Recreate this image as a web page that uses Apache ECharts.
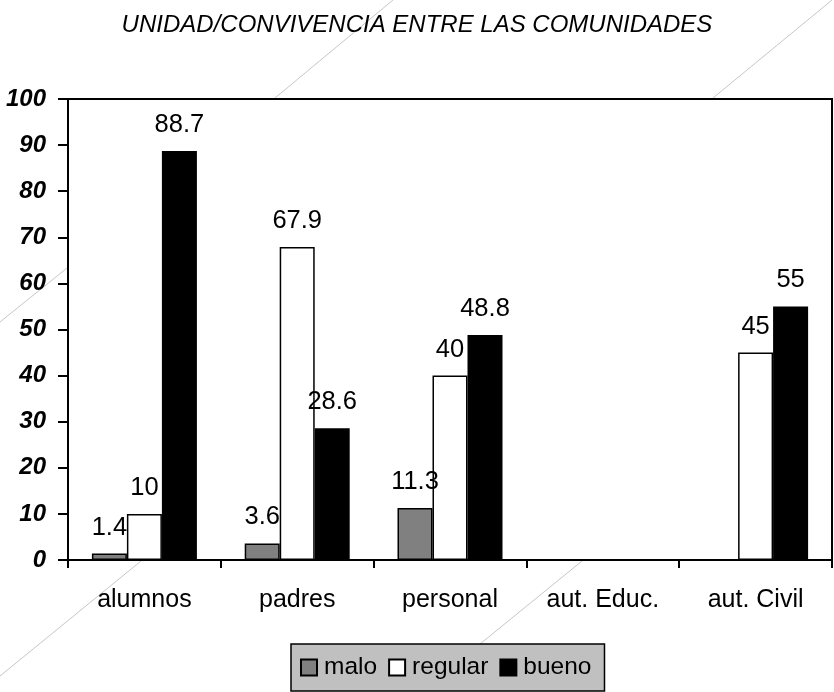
<!DOCTYPE html>
<html>
<head>
<meta charset="utf-8">
<script src="https://cdn.jsdelivr.net/npm/echarts@6/dist/echarts.min.js"></script>
<style>
  html,body {margin:0;padding:0;background:#fff;}
  #echart {width:834px;height:692px;}
</style>
</head>
<body>
<div id="echart"></div>
<script>
var titulo = 'UNIDAD/CONVIVENCIA ENTRE LAS COMUNIDADES';
var categorias = ['alumnos', 'padres', 'personal', 'aut. Educ.', 'aut. Civil'];
var nombres = ['malo', 'regular', 'bueno'];
// '-' = sin barra
var malo = [1.4, 3.6, 11.3, '-', '-'];
var regular = [10, 67.9, 40, '-', 45];
var bueno = [88.7, 28.6, 48.8, '-', 55];
var yTicks = [0, 10, 20, 30, 40, 50, 60, 70, 80, 90, 100];

var fuente = 'Liberation Sans, Arial, sans-serif';
var colorList = ['#808080', '#FFFFFF', '#000000'];

function serie(nombre, datos, color) {
  return {
    name: nombre,
    type: 'bar',
    data: datos,
    barWidth: 35,
    barGap: '0%',
    itemStyle: {color: color, borderColor: '#000', borderWidth: 1.5},
    label: {
      show: true,
      position: 'top',
      distance: 13,
      color: '#000',
      fontSize: 25.5,
      fontFamily: fuente
    }
  };
}

// lineas diagonales del fondo (solo donde se ven)
function linea(x1, y1, x2, y2) {
  return {
    type: 'line',
    z: -1,
    silent: true,
    shape: {x1: x1, y1: y1, x2: x2, y2: y2},
    style: {stroke: '#b8b8b8', lineWidth: 0.8}
  };
}

var myChart = echarts.init(document.getElementById('echart'));
var option = {
  backgroundColor: '#fff',
  animation: false,
  color: colorList,
  title: {
    text: titulo,
    left: 'center',
    top: 8,
    textStyle: {
      fontFamily: fuente,
      fontSize: 24,
      fontStyle: 'italic',
      fontWeight: 'normal',
      color: '#000'
    }
  },
  grid: {
    left: 68,
    right: 2,
    top: 99,
    bottom: 132,
    show: true,
    backgroundColor: '#fff',
    borderColor: '#000',
    borderWidth: 2
  },
  legend: {
    data: nombres,
    left: 291,
    top: 644,
    orient: 'horizontal',
    itemWidth: 16,
    itemHeight: 16,
    itemGap: 11,
    padding: [11, 13, 11, 9],
    backgroundColor: '#C0C0C0',
    borderColor: '#000',
    borderWidth: 1.5,
    borderRadius: 0,
    icon: 'rect',
    textStyle: {fontFamily: fuente, fontSize: 24.5, color: '#000', padding: [0, 0, 0, 2]}
  },
  xAxis: {
    type: 'category',
    data: categorias,
    axisLine: {show: true, lineStyle: {color: '#000', width: 2}},
    axisTick: {show: true, length: 8, lineStyle: {color: '#000', width: 2}},
    axisLabel: {fontFamily: fuente, fontSize: 25, color: '#000', margin: 28, interval: 0},
    splitLine: {show: false}
  },
  yAxis: {
    type: 'value',
    min: yTicks[0],
    max: yTicks[yTicks.length - 1],
    interval: yTicks[1] - yTicks[0],
    axisLine: {show: true, lineStyle: {color: '#000', width: 2}},
    axisTick: {show: true, length: 10, lineStyle: {color: '#000', width: 2}},
    axisLabel: {
      fontFamily: fuente,
      fontSize: 24,
      fontWeight: 'bold',
      fontStyle: 'italic',
      color: '#000',
      margin: 22
    },
    splitLine: {show: false}
  },
  graphic: [
    linea(393, 0, 275, 98),
    linea(67, 268, 0, 322),
    linea(832, 0, 713, 98),
    linea(141, 561, 0, 676),
    linea(582, 561, 480, 644)
  ],
  series: [
    serie(nombres[0], malo, colorList[0]),
    serie(nombres[1], regular, colorList[1]),
    serie(nombres[2], bueno, colorList[2])
  ]
};
myChart.setOption(option);
</script>
</body>
</html>
